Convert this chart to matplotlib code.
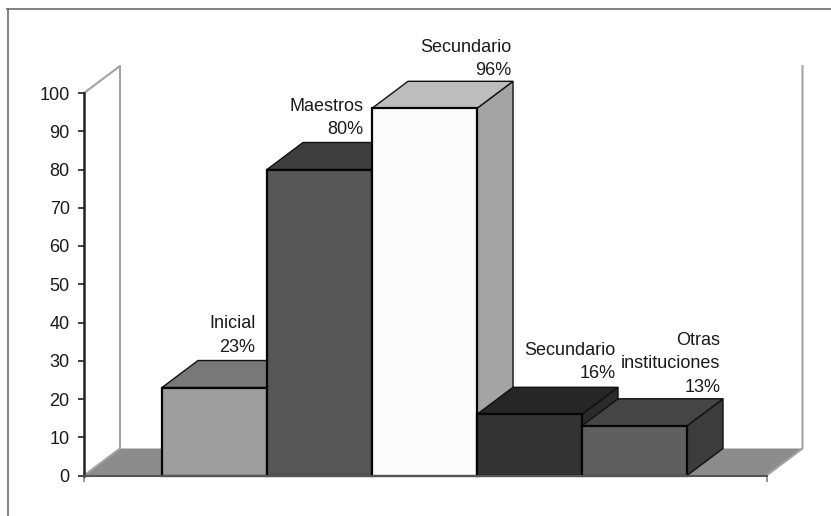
import matplotlib
matplotlib.use("Agg")
from matplotlib import pyplot as plt
from matplotlib.lines import Line2D

categories = ["Inicial", "Maestros", "Secundario", "Secundario", "Otras\ninstituciones"]
values = [23, 80, 96, 16, 13]
y_ticks = [0, 10, 20, 30, 40, 50, 60, 70, 80, 90, 100]

front_colors = ["#9e9e9e", "#565656", "#fbfbfb", "#333333", "#5f5f5f"]
top_colors = ["#787878", "#3e3e3e", "#bdbdbd", "#262626", "#454545"]
side_colors = ["#787878", "#3e3e3e", "#a4a4a4", "#2b2b2b", "#3c3c3c"]

# label offset from the top of each bar, in pixels (right edge, baseline)
label_offsets = [(41, 36), (44, 35), (87, 33), (86, 36), (86, 34)]

W, H = 831, 516
plt.rcParams["font.family"] = "Liberation Sans"
plt.rcParams["font.size"] = 13

fig = plt.figure(figsize=(W / 100, H / 100), dpi=100)
ax = fig.add_axes([84 / W, 1 - 475.5 / H, 682.5 / W, 382.5 / H])
x_left, x_right = -1.243, 5.257
ax.set_xlim(x_left, x_right)
ax.set_ylim(0, 100)
ax.patch.set_alpha(0)

# depth of the fake 3d, in data units
dx = 36 / 105
dy = 27 / 3.825

# frame round the whole figure, only top and left show
frame = "#777777"
fig.add_artist(Line2D([7.5 / W, 7.5 / W], [0, 1 - 8.5 / H], color=frame, lw=1.3))
fig.add_artist(Line2D([7 / W, 1], [1 - 8.5 / H, 1 - 8.5 / H], color=frame, lw=1.3))

# floor and walls
wall = "#a2a2a2"
ax.fill([x_left, x_left + dx, x_right + dx, x_right], [0, dy, dy, 0],
        color="#8c8c8c", lw=0, clip_on=False, zorder=1)
ax.plot([x_left, x_left + dx, x_left + dx, x_left], [100, 100 + dy, dy, 0],
        color=wall, lw=1.5, clip_on=False, zorder=1.5)
ax.plot([x_right + dx, x_right + dx, x_right], [100 + dy, dy, 0],
        color=wall, lw=1.5, clip_on=False, zorder=1.5)

# bars left to right, each one covers the side of the one before
for i, v in enumerate(values):
    x0, x1 = i - 0.5, i + 0.5
    z = 2 + i
    thin = dict(edgecolor="#111111", lw=1.0, joinstyle="miter", clip_on=False, zorder=z)
    ax.fill([x1, x1 + dx, x1 + dx, x1], [0, dy, v + dy, v], facecolor=side_colors[i], **thin)
    ax.fill([x0, x1, x1 + dx, x0 + dx], [v, v, v + dy, v + dy], facecolor=top_colors[i], **thin)
    ax.fill([x0, x1, x1, x0], [0, 0, v, v], facecolor=front_colors[i], edgecolor="#050505",
            lw=1.6, joinstyle="miter", clip_on=False, zorder=z)

for i, v in enumerate(values):
    ax.annotate(categories[i] + "\n" + str(v) + "%", xy=(i, v), xytext=label_offsets[i],
                textcoords="offset pixels", ha="right", va="baseline", ma="right",
                linespacing=1.5, color="#1a1a1a", annotation_clip=False, zorder=10)

ax.set_yticks(y_ticks)
ax.set_xticks([x_left, x_right])
ax.set_xticklabels([])
ax.tick_params(axis="y", length=4.3, width=1.3, color="#333333", pad=6, labelcolor="#1a1a1a")
ax.tick_params(axis="x", length=4.3, width=1.1, color="#777777")
for side in ["top", "right"]:
    ax.spines[side].set_visible(False)
ax.spines["left"].set_color("#222222")
ax.spines["left"].set_linewidth(1.8)
ax.spines["bottom"].set_color("#555555")
ax.spines["bottom"].set_linewidth(1.5)
ax.spines["left"].set_zorder(9)
ax.spines["bottom"].set_zorder(9)

fig.savefig("out.png", dpi=100)
